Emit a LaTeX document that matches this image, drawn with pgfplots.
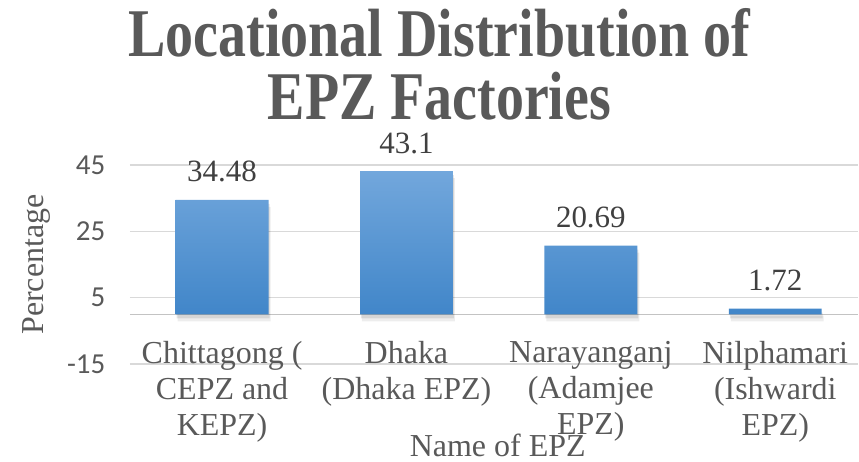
\documentclass[border=0pt]{standalone}
\usepackage{pgfplots}
\usepackage{pgfplotstable}
\pgfplotsset{compat=1.18}
\usepackage{fontspec}
\setmainfont{Liberation Serif}
\newfontfamily\tickfont{Carlito}
\definecolor{txtgray}{RGB}{89,89,89}
\definecolor{lblgray}{RGB}{64,64,64}
\definecolor{gridgray}{RGB}{217,217,217}
\definecolor{bartop}{RGB}{114,167,220}
\definecolor{barbot}{RGB}{65,134,201}

\pgfplotstableread{
x  pct
0  34.48
1  43.1
2  20.69
3  1.72
}\epzdata

\begin{document}
\begin{tikzpicture}
\begin{axis}[
    width=729pt, height=199.5pt, scale only axis,
    xmin=-0.5, xmax=3.45, ymin=-15, ymax=45,
    clip=false,
    ytick={-15,5,25,45},
    xtick={0,1,2,3},
    xticklabels={{Chittagong (\\CEPZ and\\KEPZ)},{Dhaka\\(Dhaka EPZ)},{Narayanganj\\(Adamjee\\EPZ)},{Nilphamari\\(Ishwardi\\EPZ)}},
    axis line style={draw=none},
    major tick length=0pt,
    ymajorgrids,
    grid style={gridgray, line width=1.5pt},
    extra y ticks={0}, extra y tick labels={},
    extra y tick style={ymajorgrids=true, grid style={gridgray!90!black, line width=1.5pt}},
    /pgf/number format/assume math mode=true,
    yticklabel style={font=\tickfont\fontsize{29}{32}\selectfont, text=txtgray, xshift=-21pt},
    xticklabel style={font=\fontsize{32}{36}\selectfont, text=txtgray, align=center, anchor=north, inner sep=0pt, yshift=23.5pt},
    ylabel={Percentage},
    ylabel style={font=\fontsize{32}{36}\selectfont, text=txtgray, at={(axis description cs:-0.1276,0.5)}, anchor=center},
    xlabel={Name of EPZ},
    xlabel style={font=\fontsize{32}{36}\selectfont, text=txtgray, at={(axis description cs:0.505,-0.464)}, anchor=base, inner sep=0pt},
    title={Locational Distribution of\\EPZ Factories},
    title style={font=\fontsize{56}{52}\selectfont\bfseries, text=txtgray, align=center, at={(axis description cs:0.425,1.757)}, anchor=north, inner sep=0pt, yscale=1.22},
    ybar, bar width=0.504, bar shift=0pt,
]
% soft shadow under the bars
\addplot[draw=none, fill=black, fill opacity=0.07, forget plot, transform canvas={xshift=2pt, yshift=-7pt}]
    table[x=x, y=pct] {\epzdata};
\addplot[draw=none, fill=black, fill opacity=0.10, forget plot, transform canvas={xshift=1pt, yshift=-4pt}]
    table[x=x, y=pct] {\epzdata};
\addplot[draw=none, top color=bartop, bottom color=barbot,
    nodes near coords,
    nodes near coords style={font=\fontsize{31}{34}\selectfont, text=lblgray, anchor=base, inner sep=0pt, yshift=18pt}]
    table[x=x, y=pct] {\epzdata};
\path (rel axis cs:-0.1783,-0.4887) rectangle (rel axis cs:1,1.8271);
\end{axis}
\end{tikzpicture}
\end{document}
